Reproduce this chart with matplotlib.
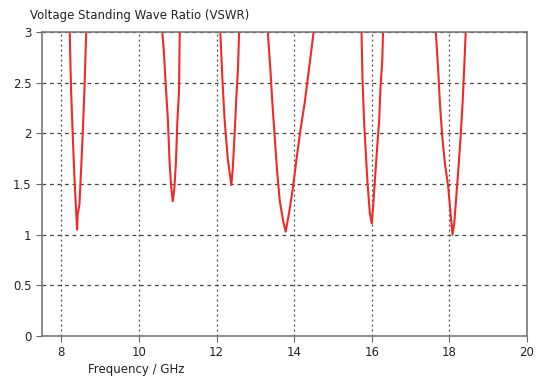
import numpy as np
import matplotlib
matplotlib.use("Agg")
import matplotlib.pyplot as plt

nan = np.nan
freq = [
    8.215, 8.233, 8.25, 8.29, 8.33, 8.36, 8.405, 8.42, 8.465, 8.51, 8.55, 8.594, 8.64, nan,
    10.60, 10.64, 10.686, 10.745, 10.79, 10.83, 10.87, 10.91, 10.95, 10.99, 11.03, 11.05, nan,
    12.096, 12.15, 12.207, 12.29, 12.38, 12.42, 12.465, 12.51, 12.55, 12.58, nan,
    13.32, 13.386, 13.437, 13.497, 13.557, 13.626, 13.71, 13.78, 13.866, 13.97, 14.057, 14.16, 14.27, 14.38, 14.50, nan,
    15.735, 15.76, 15.80, 15.846, 15.89, 15.95, 16.0, 16.035, 16.08, 16.14, 16.19, 16.225, 16.27, 16.29, nan,
    17.65, 17.71, 17.755, 17.815, 17.885, 17.97, 18.03, 18.08, 18.125, 18.17, 18.23, 18.29, 18.34, 18.38, 18.42,
]
vswr = [
    3.0, 2.68, 2.43, 2.0, 1.62, 1.375, 1.05, 1.2, 1.3, 1.66, 2.0, 2.43, 3.0, nan,
    3.0, 2.81, 2.5, 2.13, 1.70, 1.47, 1.33, 1.45, 1.70, 2.13, 2.40, 3.0, nan,
    3.0, 2.53, 2.13, 1.74, 1.49, 1.67, 2.0, 2.36, 2.63, 3.0, nan,
    3.0, 2.63, 2.30, 1.97, 1.64, 1.34, 1.145, 1.03, 1.21, 1.47, 1.74, 2.03, 2.30, 2.63, 3.0, nan,
    3.0, 2.53, 2.13, 1.80, 1.51, 1.21, 1.11, 1.28, 1.54, 1.87, 2.13, 2.46, 2.72, 3.0, nan,
    3.0, 2.63, 2.30, 1.97, 1.70, 1.47, 1.21, 1.0, 1.11, 1.34, 1.64, 1.97, 2.30, 2.63, 3.0,
]
xticks = [8, 10, 12, 14, 16, 18, 20]
yticks = [0, 0.5, 1, 1.5, 2, 2.5, 3]
ytick_labels = ["0", "0.5", "1", "1.5", "2", "2.5", "3"]
title = "Voltage Standing Wave Ratio (VSWR)"
xlabel = "Frequency / GHz"

fig = plt.figure(figsize=(5.42, 3.78), dpi=100)
ax = fig.add_axes([42/542, 42/378, (527-42)/542, (336-32)/378])
ax.plot(freq, vswr, color="#ee2a2a", lw=1.5, clip_on=True, zorder=3)
ax.set_xlim(7.5, 20)
ax.set_ylim(0, 3)
ax.set_xticks(xticks)
ax.set_yticks(yticks)
ax.set_yticklabels(ytick_labels)
ax.tick_params(labelsize=8.5, colors="#222222", length=4, width=0.8, direction="out")
ax.tick_params(axis="both", color="#666666")
for s in ax.spines.values():
    s.set_color("#777777")
    s.set_linewidth(1.2)
    s.set_zorder(4)
ax.yaxis.grid(True, linestyle=(0, (3, 3)), color="#444444", lw=0.9)
ax.xaxis.grid(True, linestyle=(0, (1.5, 2.5)), color="#444444", lw=0.9)
ax.set_axisbelow(True)
fig.text(30/542, 1 - 15/378, title, fontsize=8.5, color="#222222", va="center", ha="left")
fig.text(136/542, 1 - 370/378, xlabel, fontsize=8.5, color="#222222", va="center", ha="center")
fig.savefig("out.png", dpi=100)
